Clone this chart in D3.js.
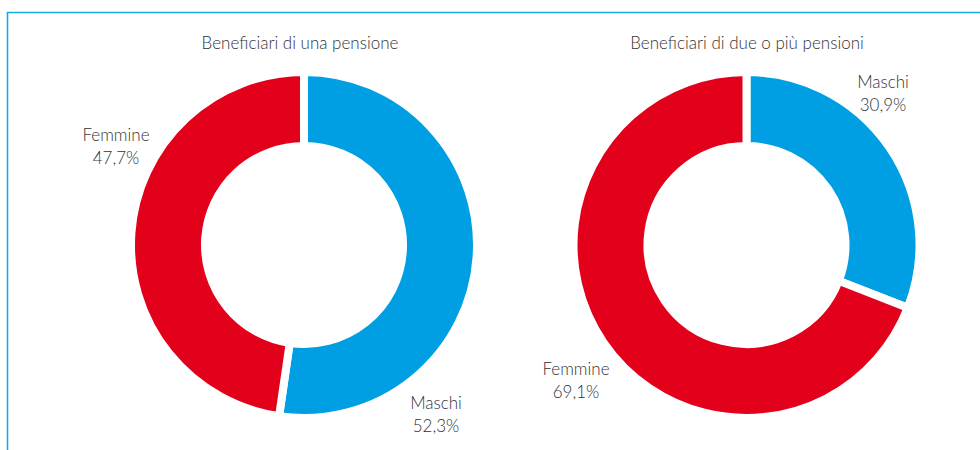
<!DOCTYPE html>
<html>
<head>
<meta charset="utf-8">
<script src="https://cdn.jsdelivr.net/npm/d3@7"></script>
<style>
  html,body{margin:0;padding:0;background:#fff;}
  svg text{font-family:Lato,"Open Sans",sans-serif;font-weight:300;fill:#333;font-size:17px;}
</style>
</head>
<body>
<svg id="chart" width="980" height="450"></svg>
<script>
// dati
const titles = ['Beneficiari di una pensione','Beneficiari di due o più pensioni'];
const categories = ['Maschi','Femmine'];
const unaPensione = [52.3, 47.7];
const duePensioni = [30.9, 69.1];
const colors = ['#009fe3','#e2001a'];

const svg = d3.select('#chart');

// cornice azzurra (solo alto e sinistra)
svg.append('path')
  .attr('d','M7.5,450 V12.5 H980')
  .attr('fill','none').attr('stroke','#1aa8e0').attr('stroke-width',1.6);

const color = d3.scaleOrdinal().domain(categories).range(colors);
const pie = d3.pie().sort(null).value(d=>d.v);
// il bordo bianco (8px) mangia 4px dentro e fuori: raggi visibili 103..169
const arc = d3.arc().innerRadius(99).outerRadius(173);

const panels = [
  {title:titles[0], vals:unaPensione, cx:304, cy:245, tx:300,
   labels:[{x:436,y:409},{x:116,y:141}]},
  {title:titles[1], vals:duePensioni, cx:746.5, cy:245, tx:747,
   labels:[{x:883,y:88},{x:576,y:375}]}
];

panels.forEach(p=>{
  svg.append('text').attr('x',p.tx).attr('y',49)
    .attr('text-anchor','middle').text(p.title);
  const data = categories.map((c,i)=>({c, v:p.vals[i]}));
  const g = svg.append('g').attr('transform',`translate(${p.cx},${p.cy})`);
  g.selectAll('path').data(pie(data)).enter().append('path')
    .attr('d',arc)
    .attr('fill',d=>color(d.data.c))
    .attr('stroke','#fff').attr('stroke-width',8).attr('stroke-linejoin','miter');
  data.forEach((d,i)=>{
    const t = svg.append('text').attr('text-anchor','middle')
      .attr('x',p.labels[i].x).attr('y',p.labels[i].y);
    t.append('tspan').attr('x',p.labels[i].x).text(d.c);
    t.append('tspan').attr('x',p.labels[i].x).attr('dy',22.5)
      .text(d3.format('.1f')(d.v).replace('.',',')+'%');
  });
});
</script>
</body>
</html>
